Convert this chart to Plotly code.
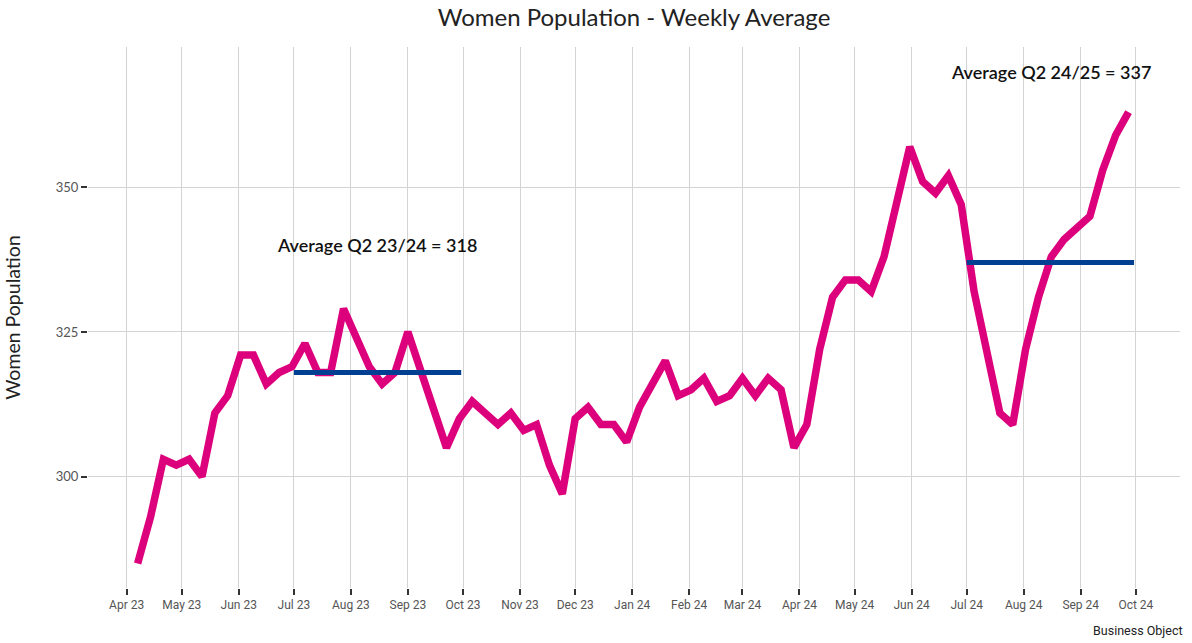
import pandas as pd
import plotly.graph_objects as go

# ---- data ----
start_date = "2023-04-07"
weekly_values = [
    285, 293, 303, 302, 303, 300, 311, 314, 321, 321,
    316, 318, 319, 323, 318, 318, 329, 324, 319, 316,
    318, 325, 318, 312, 305, 310, 313, 311, 309, 311,
    308, 309, 302, 297, 310, 312, 309, 309, 306, 312,
    316, 320, 314, 315, 317, 313, 314, 317, 314, 317,
    315, 305, 309, 322, 331, 334, 334, 332, 338, 347,
    357, 351, 349, 352, 347, 332, 321, 311, 309, 322,
    331, 338, 341, 343, 345, 353, 359, 363,
]
weeks = pd.date_range(start_date, periods=len(weekly_values), freq="7D")

avg_starts = ["2023-07-01", "2024-07-01"]
avg_ends = ["2023-09-30", "2024-09-30"]
avg_values = [318, 337]
avg_labels = ["Average Q2 23/24 = 318", "Average Q2 24/25 = 337"]
label_dates = ["2023-08-15", "2024-08-16"]
label_values = [340, 370]

y_ticks = [300, 325, 350]

PINK = "#DD007D"
BLUE = "#003F91"

fig = go.Figure()
fig.add_trace(go.Scatter(
    x=weeks, y=weekly_values, mode="lines",
    line=dict(color=PINK, width=7.5), showlegend=False,
))
for s, e, v in zip(avg_starts, avg_ends, avg_values):
    fig.add_trace(go.Scatter(
        x=[s, e], y=[v, v], mode="lines",
        line=dict(color=BLUE, width=5), showlegend=False,
    ))

for d, v, t in zip(label_dates, label_values, avg_labels):
    fig.add_annotation(
        x=d, y=v, text=t, showarrow=False,
        font=dict(family="Lato, Open Sans, sans-serif", size=18, color="#111111", weight=600),
        xanchor="center", yanchor="middle",
    )

fig.add_annotation(
    xref="paper", yref="paper", x=1, y=0, text="Business Object",
    showarrow=False, xanchor="right", yanchor="middle", xshift=5, yshift=-42,
    font=dict(family="Liberation Sans Narrow, Roboto, sans-serif", size=12.5, color="#222222"),
)

fig.update_layout(
    width=1192, height=643,
    margin=dict(l=88, r=12, t=47, b=55),
    paper_bgcolor="white", plot_bgcolor="white",
    title=dict(
        text="Women Population - Weekly Average",
        x=0.5, xref="paper", xanchor="center",
        y=1 - 18 / 643, yref="container", yanchor="middle",
        font=dict(family="Lato, Open Sans, sans-serif", size=24, color="#222222"),
    ),
)
fig.update_xaxes(
    range=["2023-03-11", "2024-10-25"],
    tick0="2023-04-01", dtick="M1", tickformat="%b %y",
    showgrid=True, gridcolor="#D3D3D3", gridwidth=1.2,
    ticks="outside", ticklen=6, tickwidth=2, tickcolor="#333333",
    tickfont=dict(family="Liberation Sans Narrow, Roboto, sans-serif", size=12, color="#555555"),
    showline=False, zeroline=False,
)
fig.update_yaxes(
    range=[280.75, 374.25],
    tickvals=y_ticks,
    showgrid=True, gridcolor="#D3D3D3", gridwidth=1.2,
    ticks="outside", ticklen=6, tickwidth=2, tickcolor="#333333",
    tickfont=dict(family="Lato, sans-serif", size=13, color="#555555"),
    title=dict(text="Women Population", standoff=29,
               font=dict(family="Lato, Open Sans, sans-serif", size=19.5, color="#222222")),
    showline=False, zeroline=False,
)

fig.write_html("out.html", config={"displayModeBar": False},
               post_script="document.body.style.margin='0';")
